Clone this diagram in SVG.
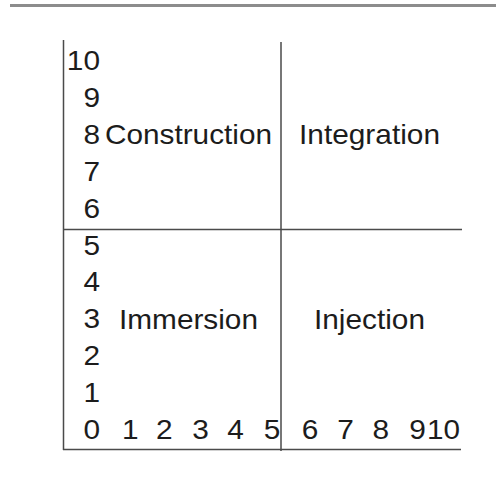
<svg xmlns="http://www.w3.org/2000/svg" width="496" height="484" viewBox="0 0 496 484">
  <style>
    text { font-family: "Liberation Sans", Arial, sans-serif; font-size: 28px; fill: #1c1c1c; }
    .d { text-anchor: middle; }
    .ye { text-anchor: end; }
    .ln { stroke: #4a4a4a; stroke-width: 1.5; fill: none; }
  </style>
  <rect width="496" height="484" fill="#fff"/>
  <line x1="10" y1="5.5" x2="496" y2="5.5" stroke="#8c8c8c" stroke-width="3"/>
  <g id="connectors">
    <line class="ln" x1="63.5" y1="40" x2="63.5" y2="450"/>
    <line class="ln" x1="281" y1="42" x2="281" y2="451" stroke="#666"/>
    <line class="ln" x1="63" y1="229.5" x2="462" y2="229.5"/>
    <line class="ln" x1="63" y1="449.5" x2="461" y2="449.5"/>
  </g>
  <g id="y-axis">
    <text class="ye" x="100" y="70" textLength="33.2" lengthAdjust="spacingAndGlyphs">10</text>
    <text class="ye" x="100" y="106.9" textLength="16.6" lengthAdjust="spacingAndGlyphs">9</text>
    <text class="ye" x="100" y="143.8" textLength="16.6" lengthAdjust="spacingAndGlyphs">8</text>
    <text class="ye" x="100" y="180.7" textLength="16.6" lengthAdjust="spacingAndGlyphs">7</text>
    <text class="ye" x="100" y="217.6" textLength="16.6" lengthAdjust="spacingAndGlyphs">6</text>
    <text class="ye" x="100" y="254.5" textLength="16.6" lengthAdjust="spacingAndGlyphs">5</text>
    <text class="ye" x="100" y="291.4" textLength="16.6" lengthAdjust="spacingAndGlyphs">4</text>
    <text class="ye" x="100" y="328.3" textLength="16.6" lengthAdjust="spacingAndGlyphs">3</text>
    <text class="ye" x="100" y="365.2" textLength="16.6" lengthAdjust="spacingAndGlyphs">2</text>
    <text class="ye" x="100" y="402.1" textLength="16.6" lengthAdjust="spacingAndGlyphs">1</text>
  </g>
  <g id="x-axis">
    <text class="d" x="91.8" y="439" textLength="16.6" lengthAdjust="spacingAndGlyphs">0</text>
    <text class="d" x="130.3" y="439" textLength="16.6" lengthAdjust="spacingAndGlyphs">1</text>
    <text class="d" x="164.2" y="439" textLength="16.6" lengthAdjust="spacingAndGlyphs">2</text>
    <text class="d" x="200.5" y="439" textLength="16.6" lengthAdjust="spacingAndGlyphs">3</text>
    <text class="d" x="235.5" y="439" textLength="16.6" lengthAdjust="spacingAndGlyphs">4</text>
    <text class="d" x="272" y="439" textLength="16.6" lengthAdjust="spacingAndGlyphs">5</text>
    <text class="d" x="310" y="439" textLength="16.6" lengthAdjust="spacingAndGlyphs">6</text>
    <text class="d" x="345.5" y="439" textLength="16.6" lengthAdjust="spacingAndGlyphs">7</text>
    <text class="d" x="380.8" y="439" textLength="16.6" lengthAdjust="spacingAndGlyphs">8</text>
    <text class="d" x="417.5" y="439" textLength="16.6" lengthAdjust="spacingAndGlyphs">9</text>
    <text class="d" x="443.5" y="439" textLength="33" lengthAdjust="spacingAndGlyphs">10</text>
  </g>
  <g id="construction">
    <text x="105" y="143.8" textLength="167" lengthAdjust="spacingAndGlyphs">Construction</text>
  </g>
  <g id="integration">
    <text x="299" y="143.8" textLength="141" lengthAdjust="spacingAndGlyphs">Integration</text>
  </g>
  <g id="immersion">
    <text x="119" y="329" textLength="139" lengthAdjust="spacingAndGlyphs">Immersion</text>
  </g>
  <g id="injection">
    <text x="314" y="329" textLength="111" lengthAdjust="spacingAndGlyphs">Injection</text>
  </g>
</svg>
